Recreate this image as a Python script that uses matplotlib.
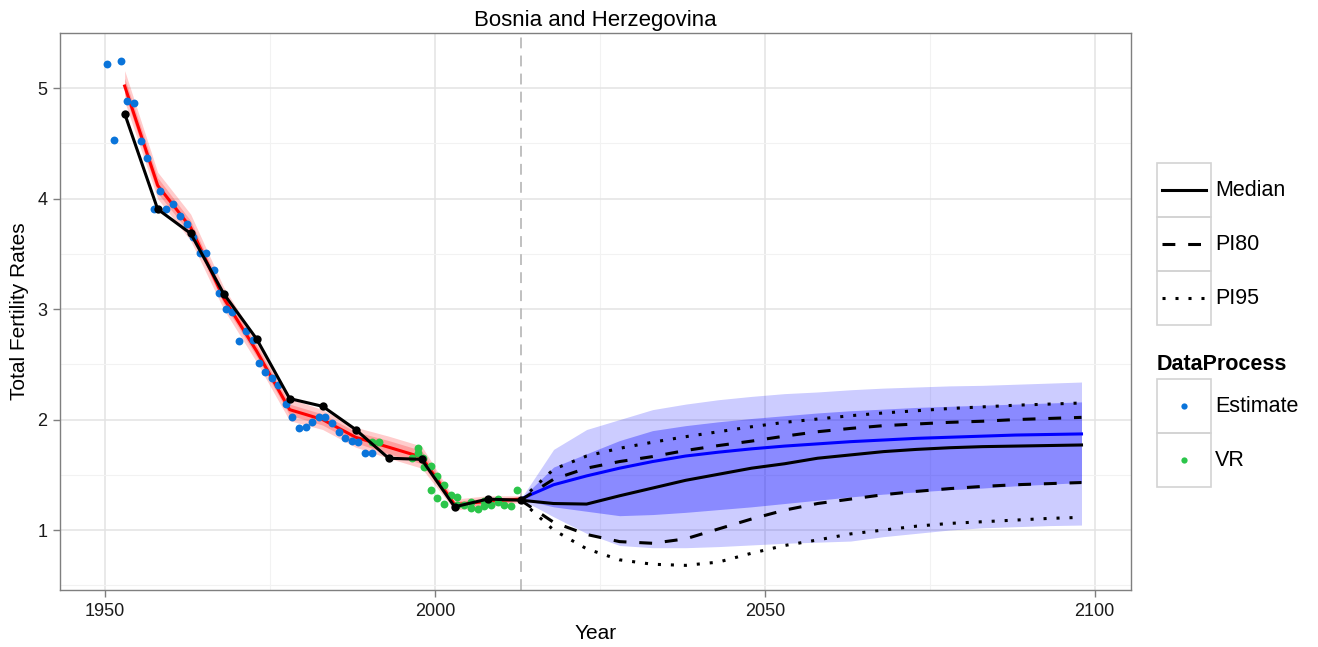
import matplotlib
matplotlib.use("Agg")
import matplotlib.pyplot as plt
from matplotlib.patches import Rectangle

plt.rcParams['font.family'] = ['Liberation Sans', 'DejaVu Sans']

# Past estimates (DataProcess = Estimate)
est_year = [1950.35, 1951.4, 1952.4, 1953.4, 1954.4, 1955.4, 1956.4, 1957.4, 1958.3, 1959.3,
            1960.35, 1961.4, 1962.4, 1963.4, 1964.4, 1965.4, 1966.5, 1967.3, 1968.3, 1969.3,
            1970.3, 1971.4, 1972.4, 1973.4, 1974.3, 1975.3, 1976.2, 1977.4, 1978.4, 1979.4,
            1980.5, 1981.4, 1982.5, 1983.4, 1984.4, 1985.5, 1986.4, 1987.4, 1988.4, 1989.4, 1990.5]
est_tfr = [5.22, 4.53, 5.245, 4.885, 4.87, 4.52, 4.37, 3.905, 4.07, 3.905,
           3.95, 3.845, 3.77, 3.655, 3.51, 3.51, 3.35, 3.15, 3.0, 2.97,
           2.71, 2.80, 2.72, 2.51, 2.43, 2.38, 2.31, 2.14, 2.02, 1.92,
           1.93, 1.98, 2.02, 2.02, 1.97, 1.89, 1.83, 1.81, 1.80, 1.70, 1.70]

# Vital registration (DataProcess = VR)
vr_year = [1990.5, 1991.5, 1996.5, 1997.4, 1997.5, 1998.2, 1998.4, 1999.4, 1999.4, 2000.4,
           2000.4, 2001.4, 2001.4, 2002.4, 2003.4, 2003.4, 2004.4, 2005.5, 2005.5, 2006.5,
           2007.5, 2007.5, 2008.5, 2009.5, 2009.5, 2010.5, 2011.5, 2012.5]
vr_tfr = [1.80, 1.80, 1.65, 1.745, 1.70, 1.65, 1.57, 1.58, 1.36, 1.49,
          1.29, 1.41, 1.235, 1.32, 1.30, 1.23, 1.23, 1.20, 1.25, 1.19,
          1.22, 1.26, 1.23, 1.25, 1.28, 1.23, 1.22, 1.36]

# past period, 5-year steps
hist_year = list(range(1953, 2014, 5))
wpp_past = [4.77, 3.905, 3.685, 3.14, 2.73, 2.19, 2.12, 1.91, 1.65, 1.64, 1.21, 1.28, 1.27]
red_med = [5.02, 4.12, 3.74, 3.10, 2.62, 2.09, 2.00, 1.84, 1.75, 1.66, 1.23, 1.26, 1.28]
red_hi95 = [5.16, 4.24, 3.86, 3.20, 2.72, 2.19, 2.09, 1.93, 1.85, 1.76, 1.28, 1.31, 1.31]
red_lo95 = [4.88, 4.00, 3.62, 3.00, 2.52, 1.99, 1.91, 1.75, 1.65, 1.56, 1.18, 1.21, 1.25]
red_hi80 = [5.09, 4.19, 3.80, 3.15, 2.67, 2.14, 2.05, 1.89, 1.81, 1.72, 1.26, 1.29, 1.30]
red_lo80 = [4.95, 4.05, 3.68, 3.05, 2.57, 2.04, 1.95, 1.79, 1.69, 1.60, 1.20, 1.23, 1.26]

# projection period, 5-year steps
proj_year = list(range(2013, 2099, 5))
blue_med = [1.28, 1.41, 1.49, 1.56, 1.62, 1.67, 1.705, 1.735, 1.76, 1.78,
            1.80, 1.815, 1.83, 1.84, 1.85, 1.86, 1.865, 1.87]
blue_hi95 = [1.28, 1.73, 1.91, 2.0, 2.09, 2.14, 2.18, 2.21, 2.235, 2.25,
             2.27, 2.285, 2.295, 2.305, 2.31, 2.32, 2.33, 2.34]
blue_lo95 = [1.28, 1.12, 0.97, 0.86, 0.84, 0.84, 0.85, 0.865, 0.88, 0.89,
             0.90, 0.94, 0.97, 1.0, 1.02, 1.03, 1.04, 1.045]
blue_hi80 = [1.28, 1.57, 1.69, 1.81, 1.90, 1.945, 1.98, 2.01, 2.035, 2.06,
             2.08, 2.095, 2.11, 2.12, 2.13, 2.14, 2.15, 2.16]
blue_lo80 = [1.28, 1.21, 1.17, 1.13, 1.14, 1.16, 1.185, 1.21, 1.24, 1.27,
             1.30, 1.325, 1.345, 1.365, 1.38, 1.40, 1.415, 1.43]
wpp_med = [1.27, 1.24, 1.235, 1.31, 1.38, 1.45, 1.505, 1.56, 1.60, 1.65,
           1.68, 1.71, 1.73, 1.745, 1.755, 1.76, 1.765, 1.77]
wpp_hi80 = [1.27, 1.46, 1.56, 1.62, 1.665, 1.72, 1.765, 1.805, 1.85, 1.89,
            1.92, 1.945, 1.96, 1.975, 1.985, 2.0, 2.01, 2.02]
wpp_lo80 = [1.27, 1.07, 0.96, 0.895, 0.88, 0.92, 1.01, 1.10, 1.18, 1.24,
            1.28, 1.32, 1.35, 1.375, 1.395, 1.41, 1.42, 1.43]
wpp_hi95 = [1.27, 1.55, 1.67, 1.74, 1.795, 1.845, 1.89, 1.935, 1.975, 2.005,
            2.035, 2.06, 2.08, 2.10, 2.115, 2.13, 2.14, 2.15]
wpp_lo95 = [1.27, 1.00, 0.83, 0.73, 0.69, 0.68, 0.71, 0.79, 0.86, 0.91,
            0.965, 1.0, 1.035, 1.06, 1.075, 1.09, 1.105, 1.115]

W, H = 1318, 647
fig = plt.figure(figsize=(W / 100, H / 100), dpi=100)
ax = fig.add_axes([60 / W, 1 - 590 / H, (1131 - 60) / W, (590 - 33) / H])

lw = 2.2
dash = (0, (4.2, 4.2))
dot = (0, (1, 3.25))

ax.axvline(2013, color='#BBBBBB', lw=1.3, ls=(0, (6, 4)), zorder=1)

# semi-transparent bands, grid shows through as in the original
ax.fill_between(hist_year, red_lo95, red_hi95, color='red', alpha=0.2, lw=0, zorder=2)
ax.fill_between(hist_year, red_lo80, red_hi80, color='red', alpha=0.22, lw=0, zorder=2)
ax.plot(hist_year, red_med, color='#FF0000', lw=lw, zorder=3)

ax.fill_between(proj_year, blue_lo95, blue_hi95, color='blue', alpha=0.2, lw=0, zorder=2)
ax.fill_between(proj_year, blue_lo80, blue_hi80, color='blue', alpha=0.32, lw=0, zorder=2)
ax.plot(proj_year, blue_med, color='#0000FF', lw=lw, zorder=3)

ax.scatter(est_year, est_tfr, s=32, color='#0A74DA', lw=0, zorder=4)
ax.scatter(vr_year, vr_tfr, s=32, color='#2BC54A', lw=0, zorder=4)

ax.plot(hist_year, wpp_past, color='black', lw=lw, zorder=5)
ax.scatter(hist_year, wpp_past, s=36, color='black', lw=0, zorder=5)
ax.plot(proj_year, wpp_med, color='black', lw=lw, zorder=5)
ax.plot(proj_year, wpp_hi80, color='black', lw=lw, ls=dash, zorder=5)
ax.plot(proj_year, wpp_lo80, color='black', lw=lw, ls=dash, zorder=5)
ax.plot(proj_year, wpp_hi95, color='black', lw=lw, ls=dot, zorder=5)
ax.plot(proj_year, wpp_lo95, color='black', lw=lw, ls=dot, zorder=5)

ax.set_xlim(1943.2, 2105.5)
ax.set_ylim(0.457, 5.50)
ax.set_xticks([1950, 2000, 2050, 2100])
ax.set_xticks([1975, 2025, 2075], minor=True)
ax.set_yticks([1, 2, 3, 4, 5])
ax.set_yticks([0.5, 1.5, 2.5, 3.5, 4.5, 5.5], minor=True)
ax.grid(which='major', color='#E3E3E3', lw=1.1, zorder=0)
ax.grid(which='minor', color='#F2F2F2', lw=0.8, zorder=0)
ax.set_axisbelow(True)
ax.tick_params(which='major', length=5, width=1, color='#7F7F7F', labelsize=13,
               labelcolor='#1A1A1A', pad=4)
ax.tick_params(which='minor', length=0)
for s in ax.spines.values():
    s.set_color('#7F7F7F')
    s.set_linewidth(1)

ax.set_title("Bosnia and Herzegovina", fontsize=16, pad=5)
ax.set_xlabel("Year", fontsize=15, labelpad=3)
ax.set_ylabel("Total Fertility Rates", fontsize=15, labelpad=6)

# legend, drawn in pixel coordinates
lax = fig.add_axes([0, 0, 1, 1])
lax.set_xlim(0, W)
lax.set_ylim(H, 0)
lax.axis('off')

kx, kw, kh = 1157, 54, 54
line_names = ['Median', 'PI80', 'PI95']
line_styles = ['-', dash, dot]
for i, (name, style) in enumerate(zip(line_names, line_styles)):
    y0 = 163 + i * kh
    lax.add_patch(Rectangle((kx, y0), kw, kh, fill=False, ec='#D3D3D3', lw=1.2))
    lax.plot([kx + 5, kx + kw - 5], [y0 + kh / 2] * 2, color='black', lw=lw, ls=style)
    lax.text(kx + kw + 4, y0 + kh / 2, name, fontsize=15.5, va='center', ha='left')

lax.text(kx, 365, 'DataProcess', fontsize=15.5, fontweight='bold', va='center', ha='left')
proc_names = ['Estimate', 'VR']
proc_colors = ['#0A74DA', '#2BC54A']
for i, (name, c) in enumerate(zip(proc_names, proc_colors)):
    y0 = 379 + i * kh
    lax.add_patch(Rectangle((kx, y0), kw, kh, fill=False, ec='#D3D3D3', lw=1.2))
    lax.plot([kx + kw / 2], [y0 + kh / 2], 'o', ms=4.5, color=c, mec='none')
    lax.text(kx + kw + 4, y0 + kh / 2, name, fontsize=15.5, va='center', ha='left')

fig.savefig('out.png', dpi=100)
